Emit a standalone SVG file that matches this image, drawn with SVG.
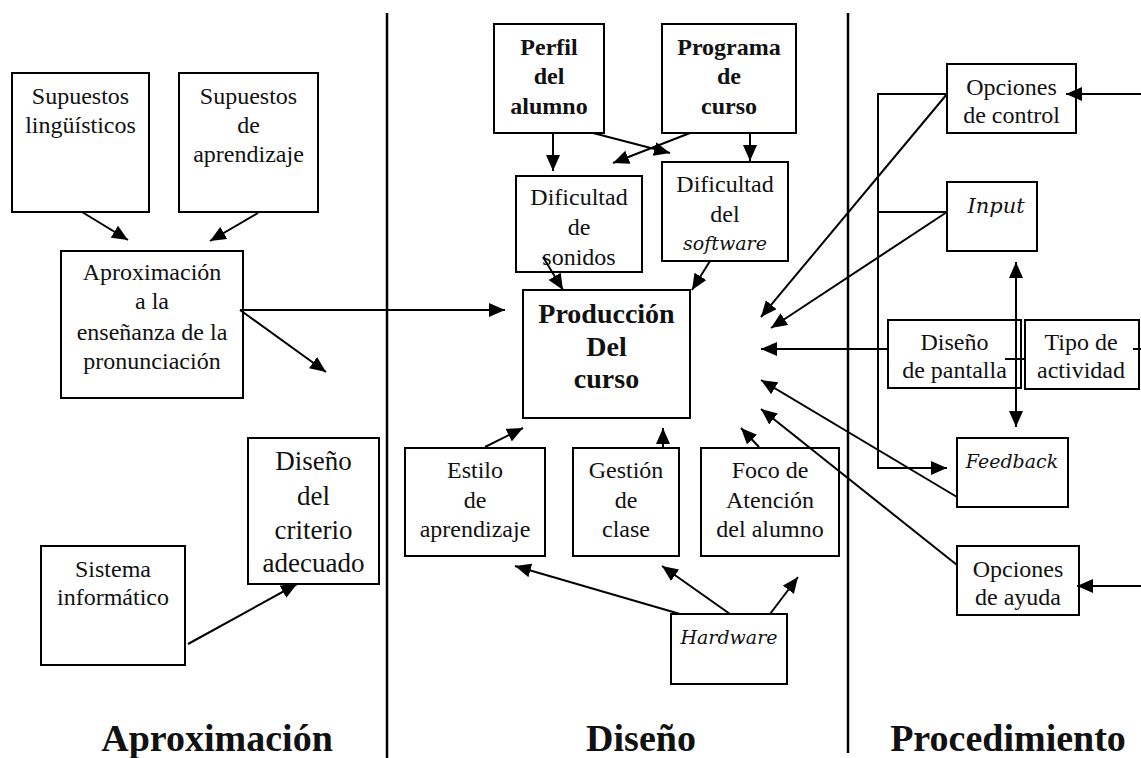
<svg xmlns="http://www.w3.org/2000/svg" width="1141" height="758" viewBox="0 0 1141 758">
<defs>
<marker id="ah" markerUnits="userSpaceOnUse" markerWidth="17" markerHeight="14" refX="16" refY="7" orient="auto-start-reverse">
<path d="M0,0 L16,7 L0,14 z" fill="#000"/>
</marker>
<style>
.box{fill:#fff;stroke:#000;stroke-width:2}
.t{font-family:"Liberation Serif",serif;font-size:24px;fill:#111;text-anchor:middle}
.b{font-weight:bold}
.i{font-family:"DejaVu Serif","Liberation Serif",serif;font-style:italic;font-size:19px}
.ttl{font-family:"Liberation Serif",serif;font-size:38px;font-weight:bold;fill:#111;text-anchor:middle}
.c line,.c polyline{stroke:#000;stroke-width:2;fill:none}
.a{marker-end:url(#ah)}
.div{stroke:#000;stroke-width:2.5}
</style>
</defs>
<rect width="1141" height="758" fill="#fff"/>
<g id="dividers">
<line class="div" x1="387" y1="13" x2="387" y2="758"/>
<line class="div" x1="848" y1="13" x2="848" y2="753"/>
</g>
<g id="sup-ling"><rect class="box" x="12" y="73" width="137" height="139"/>
<text class="t" x="80.5" y="104">Supuestos</text><text class="t" x="80.5" y="133">lingüísticos</text></g>
<g id="sup-apr"><rect class="box" x="179" y="73" width="139" height="139"/>
<text class="t" x="248.5" y="104">Supuestos</text><text class="t" x="248.5" y="133">de</text><text class="t" x="248.5" y="162">aprendizaje</text></g>
<g id="aprox"><rect class="box" x="61" y="251" width="182" height="147"/>
<text class="t" x="152" y="280">Aproximación</text><text class="t" x="152" y="309">a la</text><text class="t" x="152" y="340">enseñanza de la</text><text class="t" x="152" y="369">pronunciación</text></g>
<g id="criterio"><rect class="box" x="248" y="438" width="131" height="146"/>
<text class="t" x="313.5" y="470" style="font-size:27px">Diseño</text><text class="t" x="313.5" y="505" style="font-size:27px">del</text><text class="t" x="313.5" y="539" style="font-size:27px">criterio</text><text class="t" x="313.5" y="572" style="font-size:27px">adecuado</text></g>
<g id="sistema"><rect class="box" x="41" y="546" width="144" height="119"/>
<text class="t" x="113" y="577">Sistema</text><text class="t" x="113" y="605">informático</text></g>
<g id="perfil"><rect class="box" x="494" y="24" width="110" height="109"/>
<text class="t b" x="549" y="55">Perfil</text><text class="t b" x="549" y="84">del</text><text class="t b" x="549" y="114">alumno</text></g>
<g id="programa"><rect class="box" x="662" y="24" width="134" height="109"/>
<text class="t b" x="729" y="55">Programa</text><text class="t b" x="729" y="84">de</text><text class="t b" x="729" y="114">curso</text></g>
<g id="dif-son"><rect class="box" x="516" y="176" width="126" height="96"/>
<text class="t" x="579" y="205">Dificultad</text><text class="t" x="579" y="235">de</text><text class="t" x="579" y="265">sonidos</text></g>
<g id="dif-soft"><rect class="box" x="662" y="162" width="126" height="99"/>
<text class="t" x="725" y="192">Dificultad</text><text class="t" x="725" y="222">del</text><text class="t i" x="725" y="250">software</text></g>
<g id="produccion"><rect class="box" x="523" y="290" width="167" height="128"/>
<text class="t b" x="606.5" y="323" style="font-size:28px">Producción</text><text class="t b" x="606.5" y="356" style="font-size:28px">Del</text><text class="t b" x="606.5" y="388" style="font-size:28px">curso</text></g>
<g id="estilo"><rect class="box" x="405" y="448" width="140" height="108"/>
<text class="t" x="475" y="478">Estilo</text><text class="t" x="475" y="508">de</text><text class="t" x="475" y="537">aprendizaje</text></g>
<g id="gestion"><rect class="box" x="573" y="448" width="106" height="108"/>
<text class="t" x="626" y="478">Gestión</text><text class="t" x="626" y="508">de</text><text class="t" x="626" y="537">clase</text></g>
<g id="foco"><rect class="box" x="701" y="448" width="138" height="108"/>
<text class="t" x="770" y="478">Foco de</text><text class="t" x="770" y="508">Atención</text><text class="t" x="770" y="537">del alumno</text></g>
<g id="hardware"><rect class="box" x="671" y="614" width="116" height="70"/>
<text class="t i" x="729" y="644">Hardware</text></g>
<g id="op-control"><rect class="box" x="947" y="64" width="129" height="69"/>
<text class="t" x="1011.5" y="95">Opciones</text><text class="t" x="1011.5" y="123">de control</text></g>
<g id="input"><rect class="box" x="947" y="182" width="90" height="69"/>
<text class="t i" x="996" y="213" style="font-size:21px">Input</text></g>
<g id="dis-pantalla"><rect class="box" x="888" y="320" width="133" height="68"/>
<text class="t" x="954.5" y="350">Diseño</text><text class="t" x="954.5" y="378">de pantalla</text></g>
<g id="tipo"><rect class="box" x="1025" y="320" width="114" height="69"/>
<text class="t" x="1081" y="350">Tipo de</text><text class="t" x="1081" y="378">actividad</text></g>
<g id="feedback"><rect class="box" x="957" y="438" width="111" height="69"/>
<text class="t i" x="1012" y="468">Feedback</text></g>
<g id="op-ayuda"><rect class="box" x="957" y="546" width="122" height="69"/>
<text class="t" x="1018" y="577">Opciones</text><text class="t" x="1018" y="605">de ayuda</text></g>
<g id="connectors" class="c">
<line class="a" x1="82" y1="212" x2="128" y2="240"/>
<line class="a" x1="258" y1="213" x2="210" y2="241"/>
<line class="a" x1="240" y1="310" x2="505" y2="310"/>
<line class="a" x1="240" y1="310" x2="326" y2="372"/>
<line class="a" x1="188" y1="644" x2="297" y2="584"/>
<line class="a" x1="553" y1="133" x2="553" y2="171"/>
<line class="a" x1="593" y1="133" x2="670" y2="153"/>
<line class="a" x1="690" y1="133" x2="613" y2="163"/>
<line class="a" x1="750" y1="133" x2="750" y2="161"/>
<line class="a" x1="543" y1="257" x2="563" y2="290"/>
<line class="a" x1="710" y1="261" x2="692" y2="290"/>
<line class="a" x1="485" y1="447" x2="523" y2="428"/>
<line class="a" x1="663" y1="448" x2="663" y2="428"/>
<line class="a" x1="759" y1="447" x2="741" y2="428"/>
<line class="a" x1="680" y1="614" x2="515" y2="566"/>
<line class="a" x1="730" y1="614" x2="662" y2="566"/>
<line class="a" x1="770" y1="614" x2="798" y2="577"/>
<line class="a" x1="947" y1="94" x2="761" y2="317"/>
<line class="a" x1="947" y1="212" x2="771" y2="328"/>
<line class="a" x1="888" y1="349" x2="761" y2="349"/>
<line class="a" x1="957" y1="497" x2="761" y2="380"/>
<line class="a" x1="957" y1="565" x2="761" y2="409"/>
<line class="a" x1="1141" y1="94" x2="1066" y2="94"/>
<line class="a" x1="1141" y1="586" x2="1077" y2="586"/>
<polyline class="a" points="947,94 878,94 878,468 947,468"/>
<line x1="878" y1="212" x2="947" y2="212"/>
<line class="a" x1="1016" y1="262" x2="1016" y2="427" style="marker-start:url(#ah)"/>
<line x1="1005" y1="359" x2="1025" y2="359"/>
<line x1="1133" y1="349" x2="1141" y2="349"/>
</g>
<g id="titles">
<text class="ttl" x="217" y="751">Aproximación</text>
<text class="ttl" x="641" y="751">Diseño</text>
<text class="ttl" x="1008" y="751">Procedimiento</text>
</g>
</svg>
